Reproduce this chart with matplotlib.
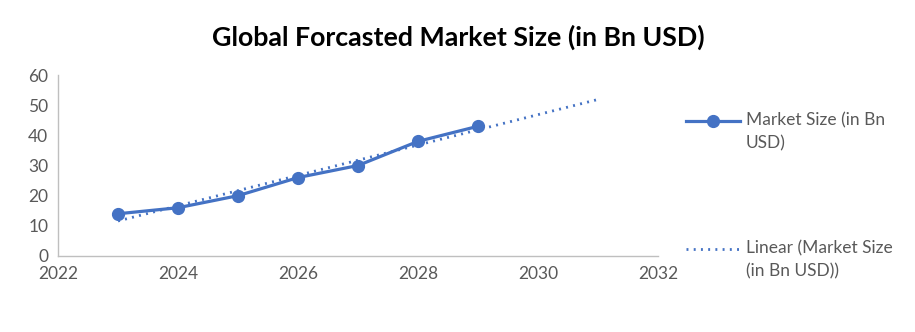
import matplotlib
matplotlib.use("Agg")
import matplotlib.pyplot as plt
from matplotlib.legend_handler import HandlerLine2D
import numpy as np

# Market size forecast (in Bn USD)
years = [2023, 2024, 2025, 2026, 2027, 2028, 2029]
market_size = [14, 16, 20, 26, 30, 38, 43]
trend_years = [2023, 2031]

x_ticks = [2022, 2024, 2026, 2028, 2030, 2032]
y_ticks = [0, 10, 20, 30, 40, 50, 60]

title = "Global Forcasted Market Size (in Bn USD)"
series_label = "Market Size (in Bn\nUSD)"
trend_label = "Linear (Market Size\n(in Bn USD))"

blue = "#4472C4"
grey_text = "#595959"
axis_grey = "#BFBFBF"

plt.rcParams["font.family"] = ["Lato", "DejaVu Sans"]


class FirstLineHandler(HandlerLine2D):
    """Legend handle aligned with the first line of a two-line label."""

    def __init__(self, shift=11.0, **kw):
        super().__init__(**kw)
        self.shift = shift

    def create_artists(self, legend, orig_handle, xdescent, ydescent,
                       width, height, fontsize, trans):
        return super().create_artists(legend, orig_handle, xdescent,
                                      ydescent - self.shift, width, height,
                                      fontsize, trans)


fig = plt.figure(figsize=(9.15, 3.32), dpi=100)
ax = fig.add_axes([58 / 915, 1 - 256 / 332, 600 / 915, 181 / 332])

# least-squares linear trend, extended two periods forward
slope, intercept = np.polyfit(years, market_size, 1)
tx = np.array(trend_years, dtype=float)
ty = slope * tx + intercept

line, = ax.plot(years, market_size, color=blue, linewidth=2.3, marker="o",
                markersize=8.5, zorder=3, label=series_label)
trend, = ax.plot(tx, ty, color=blue, linewidth=2.0, linestyle=(0, (0.7, 1.9)),
                 dash_capstyle="butt", zorder=2, label=trend_label)

ax.set_xlim(2022, 2032)
ax.set_ylim(0, 60)
ax.set_xticks(x_ticks)
ax.set_yticks(y_ticks)
ax.tick_params(length=0, labelsize=12.5, colors=grey_text, pad=7)

for side in ("top", "right"):
    ax.spines[side].set_visible(False)
for side in ("left", "bottom"):
    ax.spines[side].set_color(axis_grey)
    ax.spines[side].set_linewidth(1.0)

fig.suptitle(title, x=458 / 915, y=1 - 37 / 332, va="center",
             fontsize=19.3, fontweight="bold", color="black")

handler = FirstLineHandler(shift=16.0)
leg = fig.legend(handles=[line, trend], loc="upper left",
                 bbox_to_anchor=(686 / 915, 1 - 112 / 332),
                 frameon=False, fontsize=12.5, labelcolor=grey_text,
                 handlelength=3.1, handletextpad=0.35, labelspacing=5.1,
                 borderaxespad=0, borderpad=0,
                 handler_map={line: handler, trend: handler})
for t in leg.get_texts():
    t.set_linespacing(1.55)

fig.savefig("out.png", dpi=100)
